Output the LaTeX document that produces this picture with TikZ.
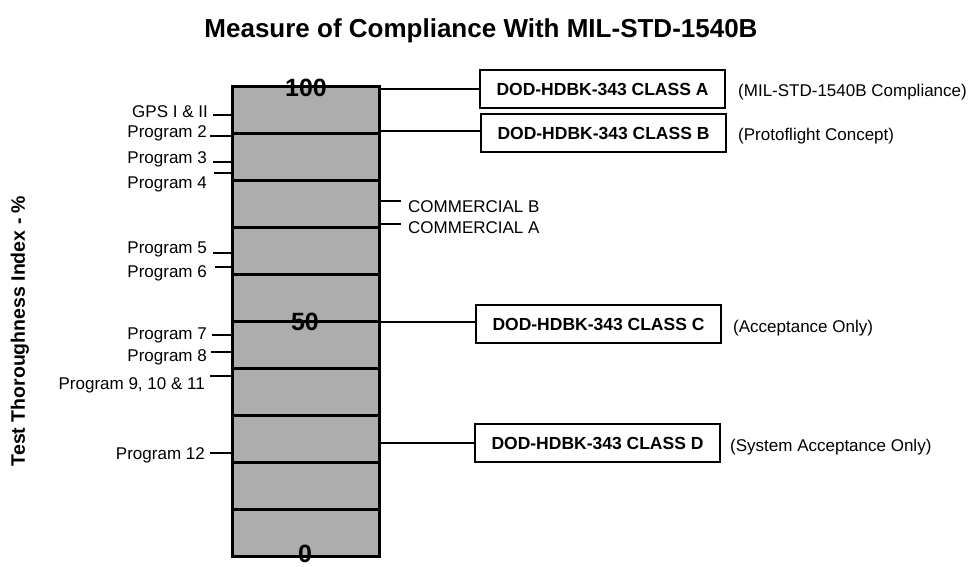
\documentclass[tikz,border=0pt]{standalone}
\usepackage{fontspec}
\setmainfont{Liberation Sans}
\definecolor{halftone}{gray}{0.68}
\begin{document}
\begin{tikzpicture}[x=1pt,y=-1pt,
  segbox/.style={draw=black, line width=3pt, fill=halftone, minimum width=147pt, minimum height=46.9pt, inner sep=0pt},
  lab/.style={font=\fontsize{17}{20}\selectfont, inner sep=0pt},
  scalelab/.style={font=\fontsize{25}{28}\selectfont\bfseries, inner sep=0pt},
  classbox/.style={draw=black, line width=2.5pt, minimum width=245pt, minimum height=38pt, inner sep=0pt, font=\fontsize{17.5}{20}\selectfont\bfseries},
  tick/.style={line width=2pt},
  conn/.style={line width=2.5pt}]
\useasboundingbox (0,0) rectangle (977,567);
% title
\node[font=\fontsize{26}{30}\selectfont\bfseries, inner sep=0pt] (title) at (481,31) {Measure of Compliance With MIL-STD-1540B};
% y label
\node[rotate=90, font=\fontsize{19.5}{23}\selectfont\bfseries, inner sep=0pt] (ylab) at (20,331) {Test Thoroughness Index - \%};
% bar
\foreach \i in {0,...,9} {
  \node[segbox] (s\i) at (306,{110.45+46.9*\i}) {};
}
\node[scalelab] (p100) at (306,88) {100};
\node[scalelab] (p50) at (305,322) {50};
\node[scalelab] (p0) at (305,554) {0};
% left labels
\node[lab, anchor=base east] (gps) at (208,118) {GPS I \& II};
\node[lab, anchor=base east] (pr2) at (207,138) {Program 2};
\node[lab, anchor=base east] (pr3) at (207,164) {Program 3};
\node[lab, anchor=base east] (pr4) at (207,188) {Program 4};
\node[lab, anchor=base east] (pr5) at (207,253) {Program 5};
\node[lab, anchor=base east] (pr6) at (207,277) {Program 6};
\node[lab, anchor=base east] (pr7) at (207,339) {Program 7};
\node[lab, anchor=base east] (pr8) at (207,361) {Program 8};
\node[lab, anchor=base east] (pr9) at (205,389) {Program 9, 10 \& 11};
\node[lab, anchor=base east] (pr12) at (205,459) {Program 12};
\coordinate (lG) at (232,115);
\coordinate (l2) at (232,136);
\coordinate (l3) at (232,162);
\coordinate (l4) at (232,173);
\coordinate (l5) at (232,253);
\coordinate (l6) at (232,267);
\coordinate (l7) at (232,335);
\coordinate (l8) at (232,352);
\coordinate (l9) at (232,376);
\coordinate (l12) at (232,453);
\draw[tick] ([xshift=5pt]gps.east |- lG) -- (lG);
\draw[tick] ([xshift=3pt]pr2.east |- l2) -- (l2);
\draw[tick] ([xshift=6pt]pr3.east |- l3) -- (l3);
\draw[tick] ([xshift=7pt]pr4.east |- l4) -- (l4);
\draw[tick] ([xshift=6pt]pr5.east |- l5) -- (l5);
\draw[tick] ([xshift=8pt]pr6.east |- l6) -- (l6);
\draw[tick] ([xshift=5pt]pr7.east |- l7) -- (l7);
\draw[tick] ([xshift=4pt]pr8.east |- l8) -- (l8);
\draw[tick] ([xshift=5pt]pr9.east |- l9) -- (l9);
\draw[tick] ([xshift=5pt]pr12.east |- l12) -- (l12);
% commercial labels
\node[lab, anchor=base west] (comB) at (408,212) {COMMERCIAL B};
\node[lab, anchor=base west] (comA) at (408,233) {COMMERCIAL A};
\coordinate (rB) at (380,201);
\coordinate (rA) at (380,224);
\draw[tick] (rB) -- ([xshift=-7pt]comB.west |- rB);
\draw[tick] (rA) -- ([xshift=-7pt]comA.west |- rA);
% class boxes
\node[classbox] (bA) at (602.5,89) {DOD-HDBK-343 CLASS A};
\node[classbox] (bB) at (603.5,133) {DOD-HDBK-343 CLASS B};
\node[classbox] (bC) at (598.5,324) {DOD-HDBK-343 CLASS C};
\node[classbox] (bD) at (597.5,443) {DOD-HDBK-343 CLASS D};
\coordinate (cA) at (380,89);
\coordinate (cB) at (380,131);
\coordinate (cC) at (380,322);
\coordinate (cD) at (380,443);
\draw[conn] (cA) -- (bA.west |- cA);
\draw[conn] (cB) -- (bB.west |- cB);
\draw[conn] (cC) -- (bC.west |- cC);
\draw[conn] (cD) -- (bD.west |- cD);
% notes
\node[lab, anchor=base west] (nA) at (738,97) {(MIL-STD-1540B Compliance)};
\node[lab, anchor=base west] (nB) at (738,141) {(Protoflight Concept)};
\node[lab, anchor=base west] (nC) at (733,332) {(Acceptance Only)};
\node[lab, anchor=base west] (nD) at (730,451) {(System Acceptance Only)};
\end{tikzpicture}
\end{document}
